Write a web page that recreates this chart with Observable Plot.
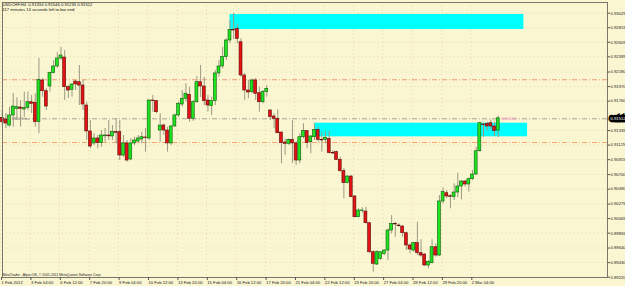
<!DOCTYPE html>
<html><head><meta charset="utf-8">
<script src="https://cdn.jsdelivr.net/npm/d3@7"></script>
<script src="https://cdn.jsdelivr.net/npm/@observablehq/plot@0.6"></script>
<style>
html,body{margin:0;padding:0;background:#fbf6d2;overflow:hidden;}
</style></head><body><div id="chart"></div>
<script>
// USDCHF H4 candles (bar 1 .. 136)
const open=[
0.91519,0.91495,0.91408,0.91553,0.91649,0.91668,0.91639,0.91664,0.91744,0.91736,
0.91456,0.92058,0.91903,0.91971,0.92163,0.92260,0.92375,0.92389,0.91961,0.91923,
0.92043,0.92033,0.91985,0.91697,0.91322,0.91149,0.91221,0.91153,0.91252,0.91264,
0.91250,0.91312,0.91312,0.90975,0.91149,0.90918,0.91149,0.91177,0.91206,0.91235,
0.91221,0.91769,0.91759,0.91336,0.91408,0.91336,0.91149,0.91394,0.91553,0.91711,
0.91794,0.91851,0.91505,0.91744,0.92033,0.91971,0.91769,0.91687,0.91759,0.92159,
0.92260,0.92394,0.92635,0.92789,0.92804,0.92610,0.92130,0.91913,0.91889,0.92058,
0.91874,0.91744,0.91889,0.91625,0.91538,0.91505,0.91307,0.91163,0.91144,0.91202,
0.91149,0.90903,0.91239,0.91326,0.91167,0.91239,0.91346,0.91202,0.91202,0.91216,
0.91014,0.91023,0.90913,0.90749,0.90576,0.90672,0.90384,0.90085,0.90172,0.90167,
0.89998,0.89580,0.89402,0.89485,0.89557,0.89604,0.89893,0.89990,0.89965,0.89951,
0.89854,0.89677,0.89604,0.89710,0.89566,0.89547,0.89388,0.89421,0.89652,0.89532,
0.90312,0.90431,0.90388,0.90374,0.90441,0.90528,0.90600,0.90557,0.90633,0.90701,
0.91037,0.91423,0.91433,0.91441,0.91394,0.91334];
const high=[
0.91625,0.91581,0.91672,0.91870,0.91808,0.91769,0.91889,0.91889,0.91841,0.91866,
0.92375,0.92086,0.91942,0.92177,0.92346,0.92462,0.92534,0.92490,0.91985,0.92010,
0.92058,0.92274,0.92058,0.91744,0.91480,0.91293,0.91264,0.91336,0.91365,0.91480,
0.91408,0.91509,0.91480,0.91264,0.91192,0.91221,0.91239,0.91264,0.91312,0.91365,
0.91779,0.91841,0.91769,0.91577,0.91433,0.91384,0.91408,0.91577,0.91744,0.91913,
0.92010,0.91961,0.91769,0.92115,0.92274,0.92105,0.91841,0.91817,0.92202,0.92346,
0.92538,0.92659,0.92923,0.93029,0.92876,0.92659,0.92159,0.92058,0.92082,0.92086,
0.91961,0.91913,0.91985,0.91635,0.91577,0.91635,0.91312,0.91216,0.91216,0.91480,
0.91177,0.91289,0.91433,0.91336,0.91264,0.91433,0.91384,0.91312,0.91326,0.91326,
0.91047,0.91037,0.90951,0.90788,0.90687,0.90687,0.90398,0.90206,0.90221,0.90229,
0.90013,0.89604,0.89604,0.89580,0.89615,0.89918,0.90110,0.90013,0.89990,0.89965,
0.89869,0.89701,0.89724,0.90013,0.89759,0.89557,0.89460,0.89759,0.89701,0.90398,
0.90509,0.90470,0.90413,0.90567,0.90720,0.90615,0.90615,0.90654,0.90759,0.91095,
0.91456,0.91441,0.91456,0.91490,0.91456,0.91546];
const low=[
0.91408,0.91365,0.91384,0.91384,0.91480,0.91384,0.91528,0.91625,0.91581,0.91384,
0.91289,0.91817,0.91625,0.91889,0.92154,0.92231,0.92346,0.91769,0.91798,0.91817,
0.91913,0.91697,0.91625,0.91192,0.91072,0.91120,0.91072,0.91095,0.91167,0.91192,
0.91192,0.91144,0.90903,0.90951,0.90879,0.90903,0.91120,0.91144,0.91144,0.91023,
0.91192,0.91600,0.91577,0.91167,0.91264,0.91023,0.91120,0.91384,0.91528,0.91672,
0.91744,0.91456,0.91466,0.91726,0.91812,0.91697,0.91600,0.91553,0.91697,0.92105,
0.92226,0.92346,0.92587,0.92649,0.92587,0.92105,0.91769,0.91794,0.91866,0.91769,
0.91600,0.91721,0.91817,0.91480,0.91361,0.91289,0.90856,0.90975,0.91120,0.90860,
0.90831,0.90856,0.91216,0.91072,0.91000,0.91192,0.91167,0.91023,0.91144,0.91000,
0.90990,0.90903,0.90734,0.90351,0.90567,0.90365,0.90076,0.90076,0.90143,0.89990,
0.89557,0.89291,0.89388,0.89460,0.89532,0.89460,0.89845,0.89796,0.89941,0.89796,
0.89604,0.89557,0.89580,0.89532,0.89508,0.89374,0.89340,0.89413,0.89508,0.89518,
0.90278,0.90351,0.90206,0.90326,0.90365,0.90336,0.90518,0.90446,0.90615,0.90687,
0.91023,0.91239,0.91326,0.91346,0.91250,0.91235];
const close=[
0.91456,0.91437,0.91553,0.91682,0.91672,0.91649,0.91658,0.91744,0.91721,0.91456,
0.92068,0.91903,0.91682,0.92163,0.92260,0.92375,0.92418,0.91961,0.91913,0.92000,
0.92000,0.91985,0.91711,0.91322,0.91105,0.91221,0.91153,0.91264,0.91264,0.91252,
0.91312,0.91303,0.90975,0.91149,0.90903,0.91149,0.91192,0.91221,0.91239,0.91225,
0.91769,0.91759,0.91600,0.91408,0.91336,0.91149,0.91394,0.91553,0.91721,0.91794,
0.91866,0.91505,0.91744,0.92033,0.91971,0.91759,0.91697,0.91759,0.92159,0.92260,
0.92394,0.92635,0.92789,0.92779,0.92659,0.92130,0.91913,0.91884,0.92058,0.91866,
0.91744,0.91889,0.91938,0.91528,0.91505,0.91297,0.91153,0.91144,0.91202,0.91149,
0.90903,0.91239,0.91326,0.91153,0.91250,0.91346,0.91202,0.91192,0.91231,0.91009,
0.91004,0.90913,0.90749,0.90576,0.90672,0.90374,0.90085,0.90182,0.90182,0.89998,
0.89580,0.89413,0.89580,0.89580,0.89604,0.89893,0.89990,0.89980,0.89955,0.89854,
0.89677,0.89619,0.89710,0.89566,0.89532,0.89388,0.89436,0.89652,0.89532,0.90312,
0.90446,0.90384,0.90379,0.90441,0.90528,0.90600,0.90557,0.90633,0.90701,0.91037,
0.91441,0.91413,0.91394,0.91394,0.91326,0.91512];

const priceTicks=[0.93029,0.92819,0.92609,0.92399,0.92180,0.91970,0.91760,0.91335,0.91125,
  0.90915,0.90700,0.90490,0.90275,0.90065,0.89855,0.89640,0.89430,0.89220];
const dateLabels=["1 Feb 2012","3 Feb 04:00","6 Feb 12:00","7 Feb 20:00","9 Feb 04:00","10 Feb 12:00",
  "13 Feb 20:00","15 Feb 04:00","16 Feb 12:00","17 Feb 20:00","21 Feb 04:00","22 Feb 12:00",
  "23 Feb 20:00","27 Feb 04:00","28 Feb 12:00","29 Feb 20:00","2 Mar 04:00"];
const dateBars=[1,9,17,25,33,41,49,57,65,73,81,89,97,105,113,121,129];

const zones=[{from:63,to:143,low:0.92794,high:0.93010},{from:86,to:144,low:0.91245,high:0.91441}];
const levels=[{price:0.92068,color:"#eb9a78"},{price:0.91163,color:"#f6a66e"}];
const markerLine=0.91505;
const bid=0.91512;
const titleText="USDCHF,H4  0.91334 0.91546 0.91235 0.91512";
const timerText="117 minutes 13 seconds left to bar end";
const copyText="MetaTrader - Alpari UK, \u00a9 2001-2011 MetaQuotes Software Corp.";
const leftLabel="0.91505 bu";
const pinkLabel="0.91512";

const candles=open.map((o,k)=>({i:k+1,o,h:high[k],l:low[k],c:close[k],up:close[k]>=o}));
const tickPos=dateBars.map(b=>b-0.4);
const labelOf=new Map(tickPos.map((t,k)=>[t,dateLabels[k]]));

const chart=Plot.plot({
  width:625,height:286,
  marginLeft:2,marginRight:18,marginTop:2,marginBottom:9,
  x:{type:"linear",domain:[1.08,165.75],axis:null},
  y:{domain:[0.89215,0.93183],axis:null},
  color:{type:"identity"},
  style:{background:"#fbf6d2",fontFamily:"'Liberation Sans', Arial, sans-serif",fontSize:"4.2px",color:"#222",overflow:"visible"},
  marks:[
    Plot.ruleY(priceTicks,{stroke:"#e2d9a6",strokeDasharray:"1,3"}),
    Plot.ruleX(tickPos,{stroke:"#e2d9a6",strokeDasharray:"1,3"}),
    Plot.rect(zones,{x1:"from",x2:"to",y1:"low",y2:"high",fill:"#00ffff"}),
    Plot.ruleY(levels,{y:"price",stroke:"color",strokeDasharray:"5,2,1,2"}),
    Plot.ruleY([markerLine],{stroke:"#a9a595",strokeDasharray:"5,2,1,2"}),
    Plot.ruleX(candles,{x:"i",y1:"l",y2:"h",stroke:"#9c9884"}),
    Plot.rect(candles,{x1:d=>d.i-0.4,x2:d=>d.i+0.4,y1:"o",y2:"c",
      fill:d=>d.up?"#1fe41f":"#e41212",stroke:d=>d.up?"#0c5a0c":"#5a0c0c",strokeWidth:0.6}),
    Plot.frame({stroke:"#77776c"}),
    Plot.axisY({anchor:"right",ticks:priceTicks,tickSize:2,tickPadding:1,tickFormat:d=>d.toFixed(5),stroke:"#555",fill:"#222"}),
    Plot.axisX({anchor:"bottom",ticks:tickPos,tickSize:3,tickPadding:1,textAnchor:"start",dx:0.8,tickFormat:d=>labelOf.get(d),stroke:"#555",fill:"#222"}),
    Plot.text([bid],{y:d=>d,frameAnchor:"right",dx:3,textAnchor:"start",text:d=>d.toFixed(5),fill:"white",stroke:"black",strokeWidth:4.5,strokeLinejoin:"miter"}),
    Plot.text([titleText],{text:d=>d,frameAnchor:"top-left",textAnchor:"start",lineAnchor:"top",dx:0,dy:1,fill:"#111"}),
    Plot.text([timerText],{text:d=>d,frameAnchor:"top-left",textAnchor:"start",lineAnchor:"top",dx:0,dy:5.3,fill:"#111"}),
    Plot.text([copyText],{text:d=>d,frameAnchor:"bottom-left",textAnchor:"start",lineAnchor:"bottom",dx:0,dy:-1.2,fill:"#222",fontSize:3.4}),
    Plot.text([leftLabel],{x:2.7,y:markerLine,text:d=>d,textAnchor:"start",lineAnchor:"bottom",dy:1.2,fill:"#8e8c80"}),
    Plot.text([pinkLabel],{x:136.9,y:markerLine,text:d=>d,textAnchor:"start",lineAnchor:"bottom",dy:1.2,fill:"#ff8fd0"})
  ]
});
document.getElementById("chart").appendChild(chart);
</script></body></html>
